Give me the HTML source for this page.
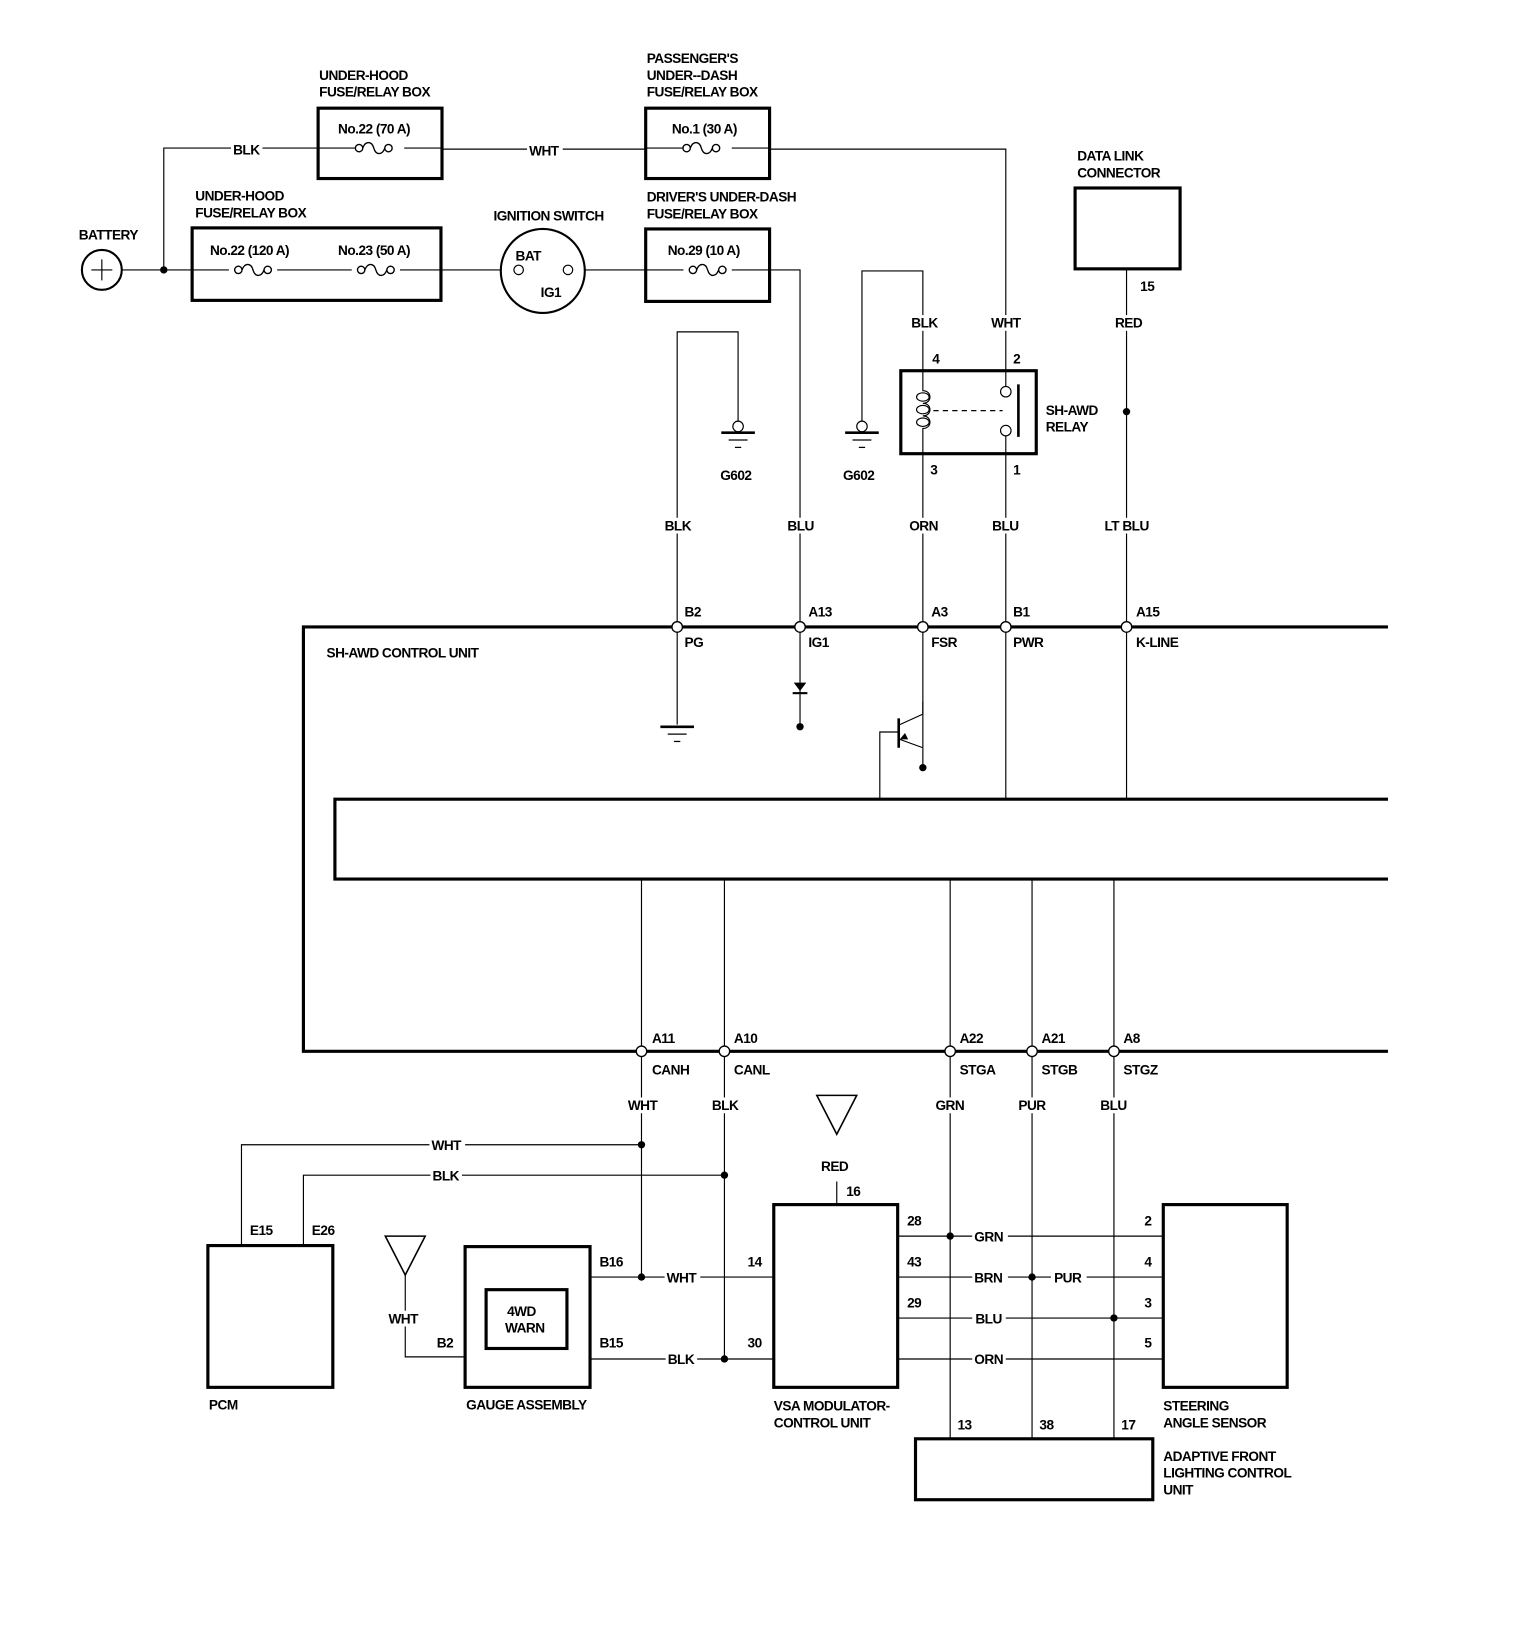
<!DOCTYPE html>
<html><head><meta charset="utf-8"><style>
html,body{margin:0;padding:0;background:#fff;}
svg{display:block;}
text{font-family:"Liberation Sans Narrow","Liberation Sans",sans-serif;font-weight:bold;font-size:13px;fill:#000;letter-spacing:-0.5px;}
</style></head><body>
<svg width="1536" height="1652" viewBox="0 0 1463 1573" preserveAspectRatio="none" xmlns="http://www.w3.org/2000/svg">
<defs>
<g id="fuse" fill="none" stroke="#000" stroke-width="1.3">
<circle cx="-14" cy="0" r="3.5" fill="#fff"/><circle cx="14" cy="0" r="3.5" fill="#fff"/>
<path d="M-10.5,0 C-8,-7 -2,-7 0,0 C2,7 8,7 10.5,0"/>
</g>
<g id="gnd" stroke="#000" fill="none">
<line x1="-16" y1="0" x2="16" y2="0" stroke-width="2.5"/><line x1="-9" y1="7" x2="9" y2="7" stroke-width="1.2"/><line x1="-3" y1="14" x2="3" y2="14" stroke-width="1.2"/>
</g>
</defs>
<g stroke="#000" fill="none" stroke-width="1.1">
<!-- battery -->
<circle cx="97" cy="257" r="19" stroke-width="2"/>
<line x1="87" y1="257" x2="107" y2="257"/><line x1="97" y1="247" x2="97" y2="267"/>
<line x1="116" y1="257" x2="183" y2="257"/>
<polyline points="156,257 156,141 303,141"/>
<!-- top boxes -->
<rect x="303" y="103" width="118" height="67" stroke-width="3"/>
<line x1="303" y1="141" x2="339" y2="141"/><line x1="385" y1="141" x2="421" y2="141"/>
<line x1="421" y1="142" x2="615" y2="142"/>
<rect x="615" y="103" width="118" height="67" stroke-width="3"/>
<line x1="615" y1="141" x2="651" y2="141"/><line x1="697" y1="141" x2="733" y2="141"/>
<polyline points="733,142 958,142 958,353"/>
<!-- lower underhood -->
<rect x="183" y="217" width="237" height="69" stroke-width="3"/>
<line x1="183" y1="257" x2="218" y2="257"/><line x1="264" y1="257" x2="335" y2="257"/><line x1="381" y1="257" x2="420" y2="257"/>
<line x1="420" y1="257" x2="478" y2="257"/>
<circle cx="517" cy="258" r="40" stroke-width="2"/>
<circle cx="494" cy="257" r="4.5"/><circle cx="541" cy="257" r="4.5"/>
<line x1="557" y1="257" x2="615" y2="257"/>
<rect x="615" y="218" width="118" height="69" stroke-width="3"/>
<line x1="615" y1="257" x2="651" y2="257"/><line x1="697" y1="257" x2="733" y2="257"/>
<polyline points="733,257 762,257 762,597"/>
<!-- G602 left -->
<polyline points="645,597 645,316 703,316 703,401"/>
<circle cx="703" cy="406" r="5"/>
<!-- G602 right -->
<polyline points="821,401 821,258 879,258 879,353"/>
<circle cx="821" cy="406" r="5"/>
<!-- relay -->
<rect x="858" y="353" width="129" height="79" stroke-width="3"/>
<path d="M879,353 V372 C888,372 888,384 879,384 C888,384 888,396 879,396 C888,396 888,408 879,408 V597"/>
<ellipse cx="879" cy="378" rx="6" ry="4"/><ellipse cx="879" cy="390" rx="6" ry="4"/><ellipse cx="879" cy="402" rx="6" ry="4"/>
<line x1="889" y1="391" x2="955" y2="391" stroke-dasharray="5,4"/>
<line x1="958" y1="353" x2="958" y2="368"/><circle cx="958" cy="373" r="5"/>
<line x1="958" y1="597" x2="958" y2="415"/><circle cx="958" cy="410" r="5"/>
<line x1="970" y1="366" x2="970" y2="416" stroke-width="2.5"/>
<!-- DLC -->
<rect x="1024" y="179" width="100" height="77" stroke-width="3"/>
<line x1="1073" y1="256" x2="1073" y2="761"/>
<!-- control unit -->
<polyline points="1322,597 289,597 289,1001 1322,1001" stroke-width="3"/>
<polyline points="1322,761 319,761 319,837 1322,837" stroke-width="3"/>
<line x1="645" y1="597" x2="645" y2="690"/>
<line x1="762" y1="597" x2="762" y2="692"/>
<line x1="958" y1="597" x2="958" y2="761"/>
<!-- transistor -->
<line x1="879" y1="597" x2="879" y2="712"/>
<line x1="856" y1="684" x2="856" y2="712" stroke-width="2.5"/>
<polyline points="879,668 879,680 857,690"/>
<polyline points="857,704 879,712 879,731"/>
<polyline points="856,697 838,697 838,761"/>
<!-- lower verticals -->
<line x1="611" y1="837" x2="611" y2="1216"/>
<line x1="690" y1="837" x2="690" y2="1294"/>
<line x1="905" y1="837" x2="905" y2="1370"/>
<line x1="983" y1="837" x2="983" y2="1370"/>
<line x1="1061" y1="837" x2="1061" y2="1370"/>
<polyline points="230,1186 230,1090 611,1090"/>
<polyline points="289,1186 289,1119 690,1119"/>
<rect x="198" y="1186" width="119" height="135" stroke-width="3"/>
<polygon points="367,1177 405,1177 386,1214" stroke-width="1.5"/>
<polyline points="386,1214 386,1292 443,1292"/>
<rect x="443" y="1187" width="119" height="134" stroke-width="3"/>
<rect x="463" y="1228" width="77" height="56" stroke-width="3"/>
<line x1="562" y1="1216" x2="737" y2="1216"/>
<line x1="562" y1="1294" x2="737" y2="1294"/>
<polygon points="778,1043 816,1043 797,1080" stroke-width="1.5"/>
<line x1="797" y1="1125" x2="797" y2="1147"/>
<rect x="737" y="1147" width="118" height="174" stroke-width="3"/>
<line x1="855" y1="1177" x2="1108" y2="1177"/>
<line x1="855" y1="1216" x2="1108" y2="1216"/>
<line x1="855" y1="1255" x2="1108" y2="1255"/>
<line x1="855" y1="1294" x2="1108" y2="1294"/>
<rect x="1108" y="1147" width="118" height="174" stroke-width="3"/>
<rect x="872" y="1370" width="226" height="58" stroke-width="3"/>
</g>
<use href="#fuse" x="356" y="141"/><use href="#fuse" x="668" y="141"/>
<use href="#fuse" x="241" y="257"/><use href="#fuse" x="358" y="257"/>
<use href="#fuse" x="674" y="257"/>
<use href="#gnd" x="703" y="412"/><use href="#gnd" x="821" y="412"/>
<use href="#gnd" x="645" y="692"/>
<!-- diode -->
<polygon points="756,650 768,650 762,658" fill="#000"/>
<line x1="755" y1="660" x2="769" y2="660" stroke="#000" stroke-width="2"/>
<g fill="#000">
<circle cx="156" cy="257" r="3.5"/><circle cx="1073" cy="392" r="3.5"/>
<circle cx="762" cy="692" r="3.5"/><circle cx="879" cy="731" r="3.5"/>
<circle cx="611" cy="1090" r="3.5"/><circle cx="690" cy="1119" r="3.5"/>
<circle cx="611" cy="1216" r="3.5"/><circle cx="690" cy="1294" r="3.5"/>
<circle cx="905" cy="1177" r="3.5"/><circle cx="983" cy="1216" r="3.5"/><circle cx="1061" cy="1255" r="3.5"/>
</g>
<polygon points="865,704 857,704 862,698" fill="#000"/>
<g fill="#fff" stroke="#000" stroke-width="1.3">
<circle cx="645" cy="597" r="5"/><circle cx="762" cy="597" r="5"/><circle cx="879" cy="597" r="5"/><circle cx="958" cy="597" r="5"/><circle cx="1073" cy="597" r="5"/>
<circle cx="611" cy="1001" r="5"/><circle cx="690" cy="1001" r="5"/><circle cx="905" cy="1001" r="5"/><circle cx="983" cy="1001" r="5"/><circle cx="1061" cy="1001" r="5"/>
</g>
<!-- wire label backgrounds -->
<g fill="#fff">
<rect x="220" y="134" width="30" height="15"/><rect x="502" y="135" width="34" height="15"/>
<rect x="630" y="493" width="30" height="15"/><rect x="748" y="493" width="30" height="15"/>
<rect x="864" y="493" width="30" height="15"/><rect x="943" y="493" width="30" height="15"/>
<rect x="1050" y="493" width="46" height="15"/>
<rect x="865" y="300" width="30" height="15"/><rect x="942" y="300" width="32" height="15"/><rect x="1059" y="300" width="30" height="15"/>
<rect x="595" y="1045" width="32" height="15"/><rect x="676" y="1045" width="30" height="15"/>
<rect x="889" y="1045" width="32" height="15"/><rect x="968" y="1045" width="30" height="15"/><rect x="1046" y="1045" width="30" height="15"/>
<rect x="409" y="1083" width="34" height="15"/><rect x="410" y="1112" width="30" height="15"/>
<rect x="368" y="1248" width="34" height="15"/>
<rect x="633" y="1209" width="34" height="15"/><rect x="634" y="1287" width="30" height="15"/>
<rect x="926" y="1170" width="34" height="15"/><rect x="926" y="1209" width="34" height="15"/><rect x="1001" y="1209" width="34" height="15"/>
<rect x="926" y="1248" width="32" height="15"/><rect x="926" y="1287" width="32" height="15"/>
</g>
<g>
<text x="75" y="228">BATTERY</text>
<text x="304" y="76">UNDER-HOOD</text><text x="304" y="92">FUSE/RELAY BOX</text>
<text x="322" y="127">No.22 (70 A)</text>
<text x="616" y="60">PASSENGER'S</text><text x="616" y="76">UNDER--DASH</text><text x="616" y="92">FUSE/RELAY BOX</text>
<text x="640" y="127">No.1 (30 A)</text>
<text x="186" y="191">UNDER-HOOD</text><text x="186" y="207">FUSE/RELAY BOX</text>
<text x="200" y="243">No.22 (120 A)</text><text x="322" y="243">No.23 (50 A)</text>
<text x="470" y="210">IGNITION SWITCH</text>
<text x="491" y="248">BAT</text><text x="515" y="283">IG1</text>
<text x="616" y="192">DRIVER'S UNDER-DASH</text><text x="616" y="208">FUSE/RELAY BOX</text>
<text x="636" y="243">No.29 (10 A)</text>
<text x="1026" y="153">DATA LINK</text><text x="1026" y="169">CONNECTOR</text>
<text x="1086" y="277">15</text>
<text x="222" y="147">BLK</text><text x="504" y="148">WHT</text>
<text x="868" y="312">BLK</text><text x="944" y="312">WHT</text><text x="1062" y="312">RED</text>
<text x="888" y="346">4</text><text x="965" y="346">2</text><text x="886" y="452">3</text><text x="965" y="452">1</text>
<text x="996" y="395">SH-AWD</text><text x="996" y="411">RELAY</text>
<text x="686" y="457">G602</text><text x="803" y="457">G602</text>
<text x="633" y="505">BLK</text><text x="750" y="505">BLU</text><text x="866" y="505">ORN</text><text x="945" y="505">BLU</text><text x="1052" y="505">LT BLU</text>
<text x="652" y="587">B2</text><text x="770" y="587">A13</text><text x="887" y="587">A3</text><text x="965" y="587">B1</text><text x="1082" y="587">A15</text>
<text x="652" y="616">PG</text><text x="770" y="616">IG1</text><text x="887" y="616">FSR</text><text x="965" y="616">PWR</text><text x="1082" y="616">K-LINE</text>
<text x="311" y="626">SH-AWD CONTROL UNIT</text>
<text x="621" y="993">A11</text><text x="699" y="993">A10</text><text x="914" y="993">A22</text><text x="992" y="993">A21</text><text x="1070" y="993">A8</text>
<text x="621" y="1023">CANH</text><text x="699" y="1023">CANL</text><text x="914" y="1023">STGA</text><text x="992" y="1023">STGB</text><text x="1070" y="1023">STGZ</text>
<text x="598" y="1057">WHT</text><text x="678" y="1057">BLK</text><text x="891" y="1057">GRN</text><text x="970" y="1057">PUR</text><text x="1048" y="1057">BLU</text>
<text x="411" y="1095">WHT</text><text x="412" y="1124">BLK</text>
<text x="782" y="1115">RED</text><text x="806" y="1139">16</text>
<text x="238" y="1176">E15</text><text x="297" y="1176">E26</text>
<text x="370" y="1260">WHT</text><text x="416" y="1283">B2</text>
<text x="571" y="1206">B16</text><text x="571" y="1283">B15</text>
<text x="483" y="1253">4WD</text><text x="481" y="1269">WARN</text>
<text x="635" y="1221">WHT</text><text x="636" y="1299">BLK</text>
<text x="712" y="1206">14</text><text x="712" y="1283">30</text>
<text x="864" y="1167">28</text><text x="864" y="1206">43</text><text x="864" y="1245">29</text>
<text x="928" y="1182">GRN</text><text x="928" y="1221">BRN</text><text x="1004" y="1221">PUR</text><text x="929" y="1260">BLU</text><text x="928" y="1299">ORN</text>
<text x="1090" y="1167">2</text><text x="1090" y="1206">4</text><text x="1090" y="1245">3</text><text x="1090" y="1283">5</text>
<text x="199" y="1342">PCM</text><text x="444" y="1342">GAUGE ASSEMBLY</text>
<text x="737" y="1343">VSA MODULATOR-</text><text x="737" y="1359">CONTROL UNIT</text>
<text x="1108" y="1343">STEERING</text><text x="1108" y="1359">ANGLE SENSOR</text>
<text x="912" y="1361">13</text><text x="990" y="1361">38</text><text x="1068" y="1361">17</text>
<text x="1108" y="1391">ADAPTIVE FRONT</text><text x="1108" y="1407">LIGHTING CONTROL</text><text x="1108" y="1423">UNIT</text>
</g>
</svg>
</body></html>
